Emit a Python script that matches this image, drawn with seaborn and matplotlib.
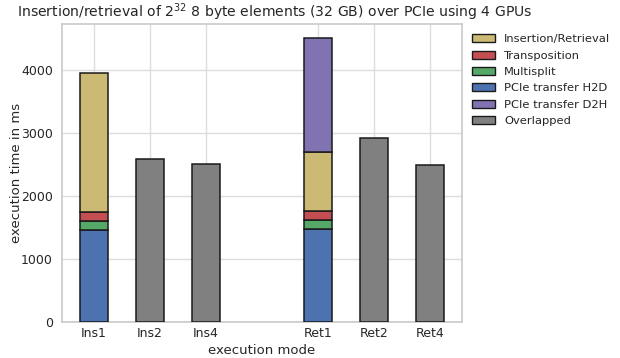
import matplotlib
matplotlib.use("Agg")
import matplotlib.pyplot as plt
from matplotlib.patches import Patch
import seaborn as sns

# Execution modes and their positions on the x axis (gap between insertion and retrieval)
modes = ["Ins1", "Ins2", "Ins4", "Ret1", "Ret2", "Ret4"]
positions = [0, 1, 2, 4, 5, 6]

# Breakdown of the single-GPU-stream runs (Ins1, Ret1), in ms
staged_modes = ["Ins1", "Ret1"]
h2d = [1460, 1470]
multisplit = [148, 150]
transposition = [132, 140]
insert_retrieve = [2205, 940]
d2h = [0, 1800]

# Total time of the overlapped runs, in ms
overlap_modes = ["Ins2", "Ins4", "Ret2", "Ret4"]
overlapped = [2580, 2500, 2920, 2490]

sns.set_theme(style="whitegrid")
plt.rcParams["font.family"] = ["DejaVu Sans"]

colors = {
    "Insertion/Retrieval": "#CCB974",
    "Transposition": "#C44E52",
    "Multisplit": "#55A868",
    "PCIe transfer H2D": "#4C72B0",
    "PCIe transfer D2H": "#8172B2",
    "Overlapped": "#808080",
}

fig = plt.figure(figsize=(6.2, 3.58), dpi=100)
ax = fig.add_axes([0.1, 0.1006, 0.645, 0.8324])

pos_of = dict(zip(modes, positions))
bar_kw = dict(width=0.5, edgecolor="#1a1a1a", linewidth=1.1, zorder=3)

sx = [pos_of[m] for m in staged_modes]
bottom = [0] * len(sx)
for name, vals in [("PCIe transfer H2D", h2d), ("Multisplit", multisplit),
                   ("Transposition", transposition),
                   ("Insertion/Retrieval", insert_retrieve),
                   ("PCIe transfer D2H", d2h)]:
    xs = [x for x, v in zip(sx, vals) if v > 0]
    hs = [v for v in vals if v > 0]
    bs = [b for b, v in zip(bottom, vals) if v > 0]
    ax.bar(xs, hs, bottom=bs, color=colors[name], **bar_kw)
    bottom = [b + v for b, v in zip(bottom, vals)]

ox = [pos_of[m] for m in overlap_modes]
ax.bar(ox, overlapped, color=colors["Overlapped"], **bar_kw)

ax.set_xticks(positions)
ax.set_xticklabels(modes)
ax.tick_params(axis="both", labelsize=9, length=0)
ax.tick_params(axis="x", pad=3.5)
ax.tick_params(axis="y", pad=6.5)
ax.set_xlabel("execution mode", fontsize=9.5)
ax.set_ylabel("execution time in ms", fontsize=9.5)
ax.xaxis.set_label_coords(0.5, -0.074)
ax.yaxis.set_label_coords(-0.0975, 0.5)
ax.grid(True, color="#dddddd", linewidth=1.0, zorder=0)
ax.set_axisbelow(True)
for sp in ax.spines.values():
    sp.set_color("#cccccc")

handles = [Patch(facecolor=c, edgecolor="#1a1a1a", linewidth=1.0, label=n)
           for n, c in colors.items()]
ax.legend(handles=handles, loc="upper left", bbox_to_anchor=(1.0, 1.0),
          frameon=False, fontsize=8.25, handlelength=2.0, labelspacing=0.55)

fig.text(275 / 620, 1 - 12 / 358,
         "Insertion/retrieval of $2^{32}$ 8 byte elements (32 GB) over PCIe using 4 GPUs",
         ha="center", va="center", fontsize=10.1)

fig.savefig("out.png", dpi=100)
